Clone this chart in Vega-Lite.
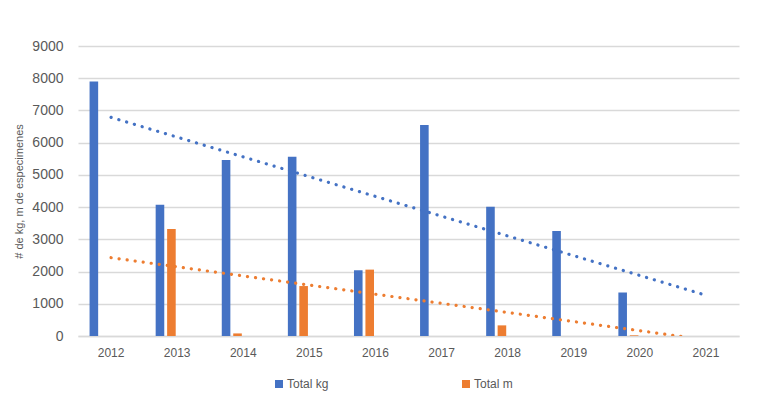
{
  "$schema": "https://vega.github.io/schema/vega-lite/v6.json",
  "width": 661,
  "height": 290,
  "autosize": {"type": "none"},
  "padding": {"left": 78, "top": 46, "right": 21, "bottom": 76},
  "background": "white",
  "config": {
    "font": "Liberation Sans",
    "view": {"stroke": null}
  },
  "datasets": {
    "bars": [
      {"year": "2012", "series": "Total kg", "value": 7900},
      {"year": "2012", "series": "Total m", "value": 0},
      {"year": "2013", "series": "Total kg", "value": 4070},
      {"year": "2013", "series": "Total m", "value": 3320},
      {"year": "2014", "series": "Total kg", "value": 5460},
      {"year": "2014", "series": "Total m", "value": 80},
      {"year": "2015", "series": "Total kg", "value": 5560},
      {"year": "2015", "series": "Total m", "value": 1550},
      {"year": "2016", "series": "Total kg", "value": 2040},
      {"year": "2016", "series": "Total m", "value": 2060},
      {"year": "2017", "series": "Total kg", "value": 6550},
      {"year": "2017", "series": "Total m", "value": 0},
      {"year": "2018", "series": "Total kg", "value": 4010},
      {"year": "2018", "series": "Total m", "value": 330},
      {"year": "2019", "series": "Total kg", "value": 3260},
      {"year": "2019", "series": "Total m", "value": 0},
      {"year": "2020", "series": "Total kg", "value": 1350},
      {"year": "2020", "series": "Total m", "value": 20},
      {"year": "2021", "series": "Total kg", "value": 0},
      {"year": "2021", "series": "Total m", "value": 0}
    ],
    "trend": [
      {"year": "2012", "series": "Total kg", "value": 6785},
      {"year": "2021", "series": "Total kg", "value": 1265},
      {"year": "2012", "series": "Total m", "value": 2430},
      {"year": "2021", "series": "Total m", "value": -120}
    ]
  },
  "encoding": {
    "y": {
      "field": "value",
      "type": "quantitative",
      "scale": {"domain": [0, 9000], "nice": false, "zero": false},
      "axis": {
        "title": "# de kg, m de especimenes",
        "titleFontSize": 11,
        "titleFontWeight": "normal",
        "titleColor": "#595959",
        "titlePadding": 7,
        "values": [0, 1000, 2000, 3000, 4000, 5000, 6000, 7000, 8000, 9000],
        "format": "d",
        "labelOverlap": false,
        "labelFlush": false,
        "labelFontSize": 14,
        "labelColor": "#595959",
        "labelPadding": 15,
        "ticks": false,
        "domain": false,
        "gridColor": "#d9d9d9",
        "gridWidth": 1.5
      }
    }
  },
  "layer": [
    {
      "data": {"name": "bars"},
      "mark": {"type": "bar"},
      "encoding": {
        "x": {
          "field": "year",
          "type": "nominal",
          "scale": {"paddingInner": 0.35, "paddingOuter": 0.175},
          "axis": {
            "title": null,
            "labelAngle": 0,
            "labelFontSize": 12,
            "labelColor": "#595959",
            "labelPadding": 11,
            "ticks": false,
            "domainColor": "#d9d9d9",
            "domainWidth": 1.5
          }
        },
        "xOffset": {
          "field": "series",
          "type": "nominal",
          "scale": {"domain": ["Total kg", "Total m", "s3", "s4"], "paddingInner": 0.25, "paddingOuter": 0}
        },
        "color": {
          "field": "series",
          "type": "nominal",
          "scale": {"domain": ["Total kg", "Total m"], "range": ["#4472C4", "#ED7D31"]},
          "legend": {
            "title": null,
            "orient": "none",
            "direction": "horizontal",
            "legendX": 195,
            "legendY": 332,
            "symbolType": "square",
            "symbolSize": 64,
            "symbolStrokeWidth": 0,
            "symbolOffset": 0,
            "labelOffset": 2,
            "labelFontSize": 12,
            "labelColor": "#595959",
            "columnPadding": 131
          }
        }
      }
    },
    {
      "data": {"name": "trend"},
      "mark": {"type": "line", "strokeDash": [0.1, 8], "strokeCap": "round", "strokeWidth": 3.2, "clip": true},
      "encoding": {
        "x": {"field": "year", "type": "nominal"},
        "color": {"field": "series", "type": "nominal", "legend": null}
      }
    }
  ]
}
